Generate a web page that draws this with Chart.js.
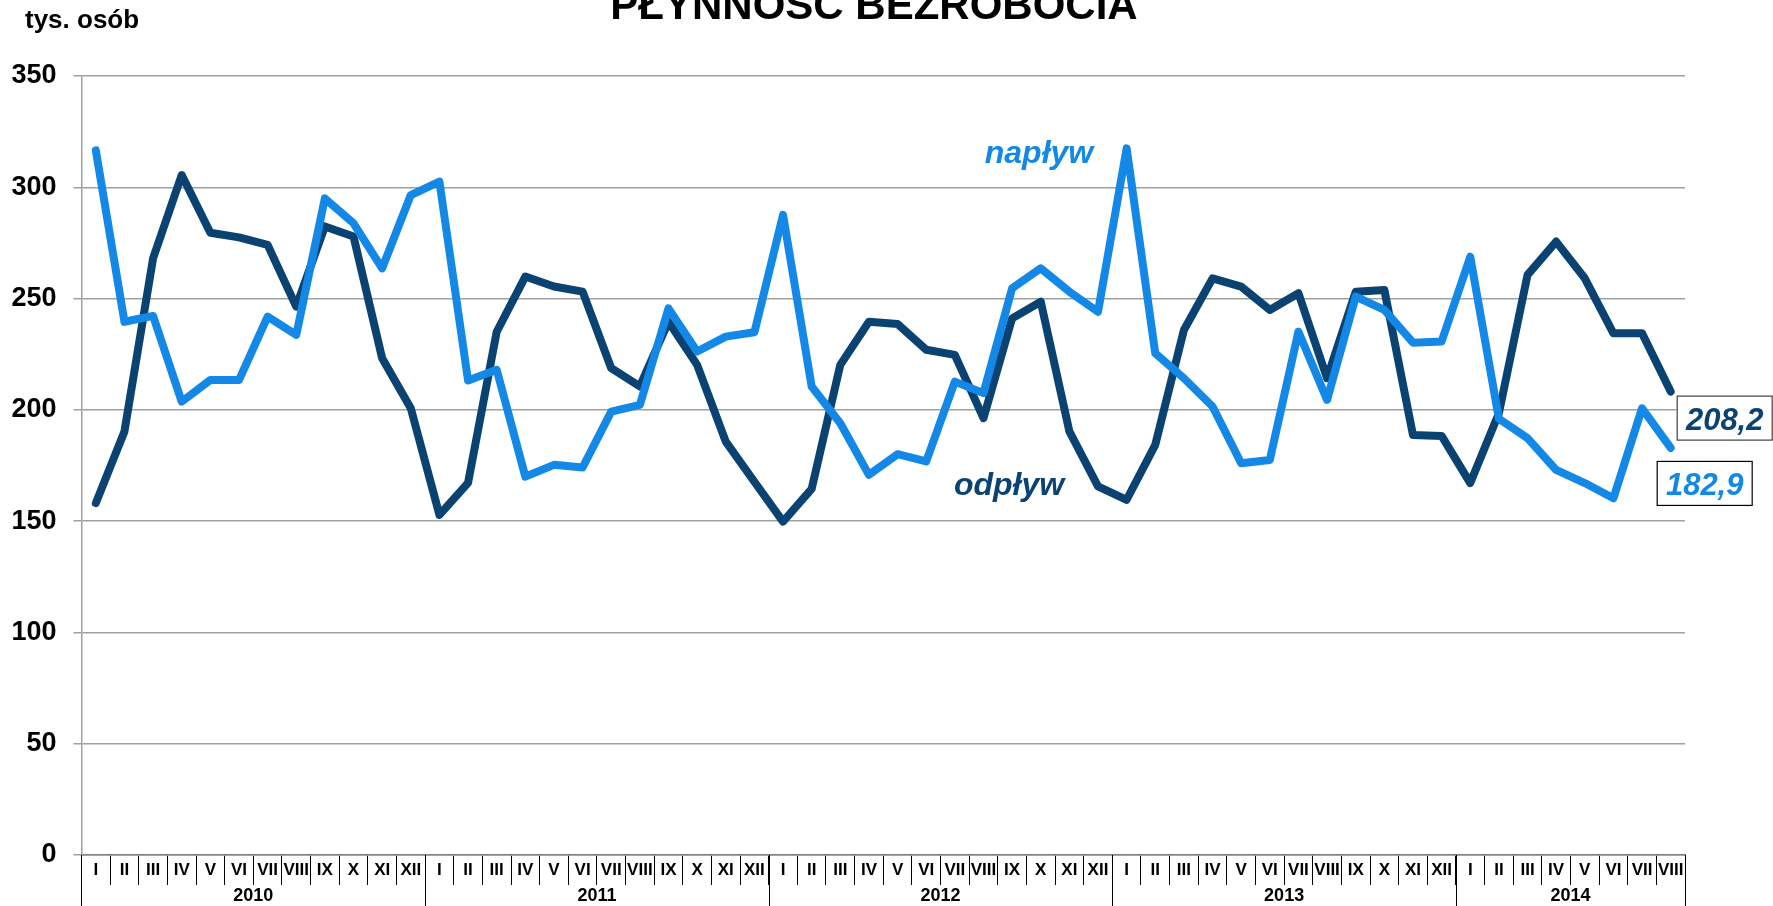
<!DOCTYPE html>
<html>
<head>
<meta charset="utf-8">
<script src="https://cdn.jsdelivr.net/npm/chart.js@4.4.1/dist/chart.umd.min.js"></script>
<style>
    html, body { margin: 0; padding: 0; background: #fff; }
    #wrap { width: 1773px; height: 906px; position: relative; }
</style>
</head>
<body>
<div id="wrap"><canvas id="flow_chart"></canvas></div>
<script>
const MONTHS = ['I', 'II', 'III', 'IV', 'V', 'VI', 'VII', 'VIII', 'IX', 'X', 'XI', 'XII'];
const YEARS = ['2010', '2011', '2012', '2013', '2014'];
const MONTHS_IN_YEAR = [12, 12, 12, 12, 8];

// tys. osób, I.2010 - VIII.2014
const naplyw = [
    316.6, 239.6, 242.2, 203.7, 213.4, 213.4, 241.9, 233.7, 295.0, 283.8, 263.6, 296.5,
    302.5, 213.2, 218.0, 170.0, 175.3, 174.1, 199.2, 202.2, 245.6, 226.2, 232.9, 234.9,
    287.6, 210.5, 194.0, 170.8, 180.1, 176.8, 212.7, 207.5, 254.6, 263.6, 253.1, 244.1,
    317.5, 225.4, 214.2, 201.5, 176.0, 177.5, 235.1, 204.5, 250.9, 244.9, 230.2, 230.7,
    268.8, 196.0, 187.3, 173.0, 167.1, 160.3, 200.7, 182.9
];
const odplyw = [
    158.1, 190.3, 268.1, 305.5, 279.6, 277.5, 274.1, 246.4, 282.4, 277.9, 223.2, 200.7,
    152.8, 167.2, 235.1, 259.9, 255.4, 253.1, 218.7, 210.5, 239.6, 220.2, 185.7, 167.7,
    149.8, 164.5, 220.2, 239.6, 238.6, 227.0, 224.7, 196.3, 241.1, 248.6, 190.3, 165.6,
    159.6, 184.3, 235.9, 259.1, 255.4, 244.9, 252.4, 214.2, 253.1, 253.9, 188.7, 188.3,
    167.1, 198.5, 260.6, 275.6, 259.1, 234.4, 234.4, 208.2
];
const Y_TICKS = [0, 50, 100, 150, 200, 250, 300, 350];

const LIGHT = '#1488E6';
const DARK = '#0A4372';
const FONT = "'Liberation Sans', Arial, sans-serif";

// etykiety osi X: miesiace dla kazdego roku
var labels = [];
for (let y = 0; y < YEARS.length; y++) {
    for (let m = 0; m < MONTHS_IN_YEAR[y]; m++) {
        labels.push(MONTHS[m]);
    }
}

Chart.defaults.font.family = FONT;
Chart.defaults.color = '#000';

// lata pod miesiacami + napisy na wykresie
const extrasPlugin = {
    id: 'extras',
    afterDraw(chart) {
        const ctx = chart.ctx;
        const x = chart.scales.x;
        const y = chart.scales.y;
        const half = (x.getPixelForValue(1) - x.getPixelForValue(0)) / 2;
        const bottom = chart.chartArea.bottom;
        ctx.save();

        // separatory lat
        ctx.strokeStyle = '#000';
        ctx.lineWidth = 1;
        let start = 0;
        for (let i = 0; i <= YEARS.length; i++) {
            const idx = i < YEARS.length ? start : labels.length;
            const px = Math.round(x.getPixelForValue(Math.min(idx, labels.length - 1)) + (idx == labels.length ? half : -half)) + 0.5;
            ctx.beginPath();
            ctx.moveTo(px, bottom);
            ctx.lineTo(px, chart.height);
            ctx.stroke();
            if (i < YEARS.length) start += MONTHS_IN_YEAR[i];
        }

        ctx.font = 'bold 18px ' + FONT;
        ctx.fillStyle = '#000';
        ctx.textAlign = 'center';
        ctx.textBaseline = 'middle';
        start = 0;
        for (let i = 0; i < YEARS.length; i++) {
            const end = start + MONTHS_IN_YEAR[i] - 1;
            const cx = (x.getPixelForValue(start) + x.getPixelForValue(end)) / 2;
            ctx.fillText(YEARS[i], cx, bottom + 41);
            start = end + 1;
        }

        // tytul (uciety u gory)
        ctx.textBaseline = 'alphabetic';
        ctx.font = 'bold 42px ' + FONT;
        ctx.fillText('PŁYNNOŚĆ BEZROBOCIA', 874, 19);

        ctx.textAlign = 'left';
        ctx.font = 'bold 26px ' + FONT;
        ctx.fillText('tys. osób', 25, 28);

        ctx.textAlign = 'center';
        ctx.font = 'italic bold 32px ' + FONT;
        ctx.fillStyle = LIGHT;
        ctx.fillText('napływ', 1039, 163);
        ctx.fillStyle = DARK;
        ctx.fillText('odpływ', 1009, 495);

        // wartosci ostatniego miesiaca w ramkach
        const last = labels.length - 1;
        const lx = x.getPixelForValue(last);
        const boxes = [
            { value: odplyw[last], color: DARK, border: '#404040', dx: 6, dy: 4 },
            { value: naplyw[last], color: LIGHT, border: '#000', dx: -14, dy: 13 }
        ];
        ctx.font = 'italic bold 31px ' + FONT;
        for (const b of boxes) {
            const bx = lx + b.dx;
            const by = y.getPixelForValue(b.value) + b.dy;
            ctx.fillStyle = '#fff';
            ctx.fillRect(bx, by, 95, 44);
            ctx.strokeStyle = b.border;
            ctx.lineWidth = 1.2;
            ctx.strokeRect(bx + 0.5, by + 0.5, 95, 44);
            ctx.fillStyle = b.color;
            ctx.fillText(b.value.toFixed(1).replace('.', ','), bx + 48, by + 34);
        }
        ctx.restore();
    }
};

new Chart(document.getElementById('flow_chart').getContext('2d'), {
    type: 'line',
    data: {
        labels: labels,
        datasets: [
            {
                label: 'napływ',
                data: naplyw,
                borderColor: LIGHT,
                backgroundColor: LIGHT,
                borderWidth: 8,
                pointRadius: 0,
                tension: 0,
                borderCapStyle: 'round',
                borderJoinStyle: 'round'
            },
            {
                label: 'odpływ',
                data: odplyw,
                borderColor: DARK,
                backgroundColor: DARK,
                borderWidth: 8,
                pointRadius: 0,
                tension: 0,
                borderCapStyle: 'round',
                borderJoinStyle: 'round'
            }
        ]
    },
    options: {
        responsive: true,
        maintainAspectRatio: false,
        animation: false,
        layout: {
            padding: { top: 76, right: 88, left: 0, bottom: 0 }
        },
        plugins: {
            legend: { display: false },
            title: { display: false },
            tooltip: { enabled: false }
        },
        scales: {
            x: {
                type: 'category',
                offset: true,
                grid: {
                    offset: true,
                    drawOnChartArea: false,
                    drawTicks: true,
                    tickLength: 30,
                    color: '#000',
                    lineWidth: 1
                },
                border: { display: true, color: '#7f7f7f', width: 1.5 },
                ticks: {
                    autoSkip: false,
                    maxRotation: 0,
                    minRotation: 0,
                    padding: -25,
                    font: { size: 17, weight: 'bold' }
                },
                afterFit: (scale) => { scale.height = 51; }
            },
            y: {
                min: 0,
                max: 350,
                afterBuildTicks: (scale) => { scale.ticks = Y_TICKS.map(v => ({ value: v })); },
                grid: {
                    color: '#a0a0a0',
                    lineWidth: 1.5,
                    drawTicks: true,
                    tickLength: 8
                },
                border: { display: true, color: '#a0a0a0', width: 1.5 },
                ticks: {
                    padding: 17,
                    font: { size: 27, weight: 'bold' }
                },
                afterFit: (scale) => { scale.width = 81.5; }
            }
        }
    },
    plugins: [extrasPlugin]
});
</script>
</body>
</html>
